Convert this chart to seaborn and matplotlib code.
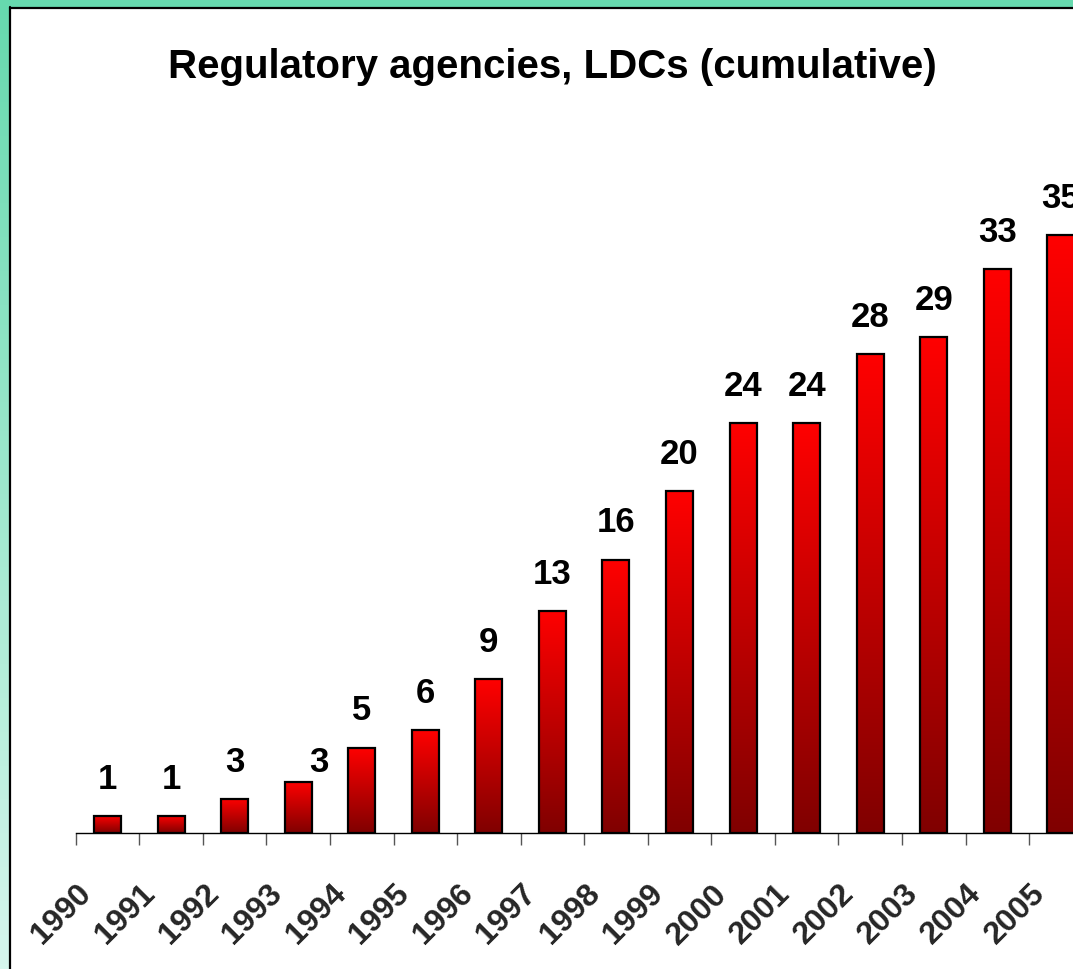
import numpy as np
import pandas as pd
import matplotlib
matplotlib.use("Agg")
import matplotlib.pyplot as plt
import seaborn as sns
from matplotlib.colors import LinearSegmentedColormap
from matplotlib.transforms import ScaledTranslation

# data
years = ['1990', '1991', '1992', '1993', '1994', '1995', '1996', '1997',
         '1998', '1999', '2000', '2001', '2002', '2003', '2004', '2005']
agencies = [1, 1, 2, 3, 5, 6, 9, 13, 16, 20, 24, 24, 28, 29, 33, 35]
bar_labels = ['1', '1', '3', '3', '5', '6', '9', '13', '16', '20',
              '24', '24', '28', '29', '33', '35']
title = 'Regulatory agencies, LDCs (cumulative)'

df = pd.DataFrame({'year': years, 'agencies': agencies})

sns.set_theme(style='white')
plt.rcParams['font.family'] = ['Liberation Sans', 'DejaVu Sans']

W, H, DPI = 1073, 969, 100
fig = plt.figure(figsize=(W / DPI, H / DPI), dpi=DPI)
fig.patch.set_facecolor('white')

# slide frame (mint band on top and left + black edge)
bg = fig.add_axes([0, 0, 1, 1], zorder=-5)
bg.axis('off')
band = LinearSegmentedColormap.from_list('band', ['#66d9ae', '#d6f6ed'])
bg.imshow(np.linspace(0, 1, 200).reshape(-1, 1), cmap=band, aspect='auto',
          extent=[0, 9.5, H, 0])
bg.add_patch(plt.Rectangle((0, 0), W, 7.5, color='#66d9ae', lw=0))
bg.plot([10, 10], [7, H], color='black', lw=1.6)
bg.plot([10, W], [7.5, 7.5], color='black', lw=1.6)
bg.set_xlim(0, W)
bg.set_ylim(H, 0)

# main axes: extends past the right edge like the original slide
ax = fig.add_axes([75.8 / W, (H - 833) / H, 1016.8 / W, 683.6 / H])
ax.set_facecolor('none')
sns.barplot(data=df, x='year', y='agencies', width=0.425, color='red', ax=ax)

grad = LinearSegmentedColormap.from_list('bar', ['#800000', '#ff0000'])
for p in ax.patches:
    x, w, h = p.get_x(), p.get_width(), p.get_height()
    im = ax.imshow(np.linspace(0, 1, 256).reshape(-1, 1), cmap=grad,
                   origin='lower', aspect='auto', extent=[x, x + w, 0, h],
                   zorder=2)
    im.set_clip_path(p)
    p.set_facecolor('none')
    p.set_edgecolor('black')
    p.set_linewidth(1.6)
    p.set_zorder(3)
ax.set_xlim(-0.5, 15.5)
ax.set_ylim(0, 40)

# value labels (1993 label sits off to the right in the original)
nudge = {3: (15, 7)}
for i, txt in enumerate(bar_labels):
    dx, dy = nudge.get(i, (0, 19.5))
    ax.annotate(txt, (i, agencies[i]), xytext=(dx, dy), textcoords='offset points',
                ha='center', va='baseline', fontsize=25, fontweight='bold',
                color='black')

fig.text(552 / W, 1 - 78 / H, title, ha='center', va='baseline',
         fontsize=29, fontweight='bold', color='black')

for s in ['left', 'right', 'top']:
    ax.spines[s].set_visible(False)
ax.spines['bottom'].set_color('black')
ax.spines['bottom'].set_linewidth(1.0)
ax.set_yticks([])
ax.set_xlabel('')
ax.set_ylabel('')

ax.set_xticks(range(len(years)))
ax.set_xticks(np.arange(-0.5, len(years), 1), minor=True)
ax.tick_params(axis='x', which='major', length=0, pad=33)
ax.tick_params(axis='x', which='minor', length=8.5, width=1, color='#555555',
               direction='out', bottom=True)
ax.set_xticklabels(years, rotation=45, ha='right', va='top',
                   fontsize=23, fontweight='bold')
shift = ScaledTranslation(-10 / DPI, 0, fig.dpi_scale_trans)
for lab in ax.get_xticklabels():
    lab.set_transform(lab.get_transform() + shift)

fig.savefig('out.png', dpi=DPI)
